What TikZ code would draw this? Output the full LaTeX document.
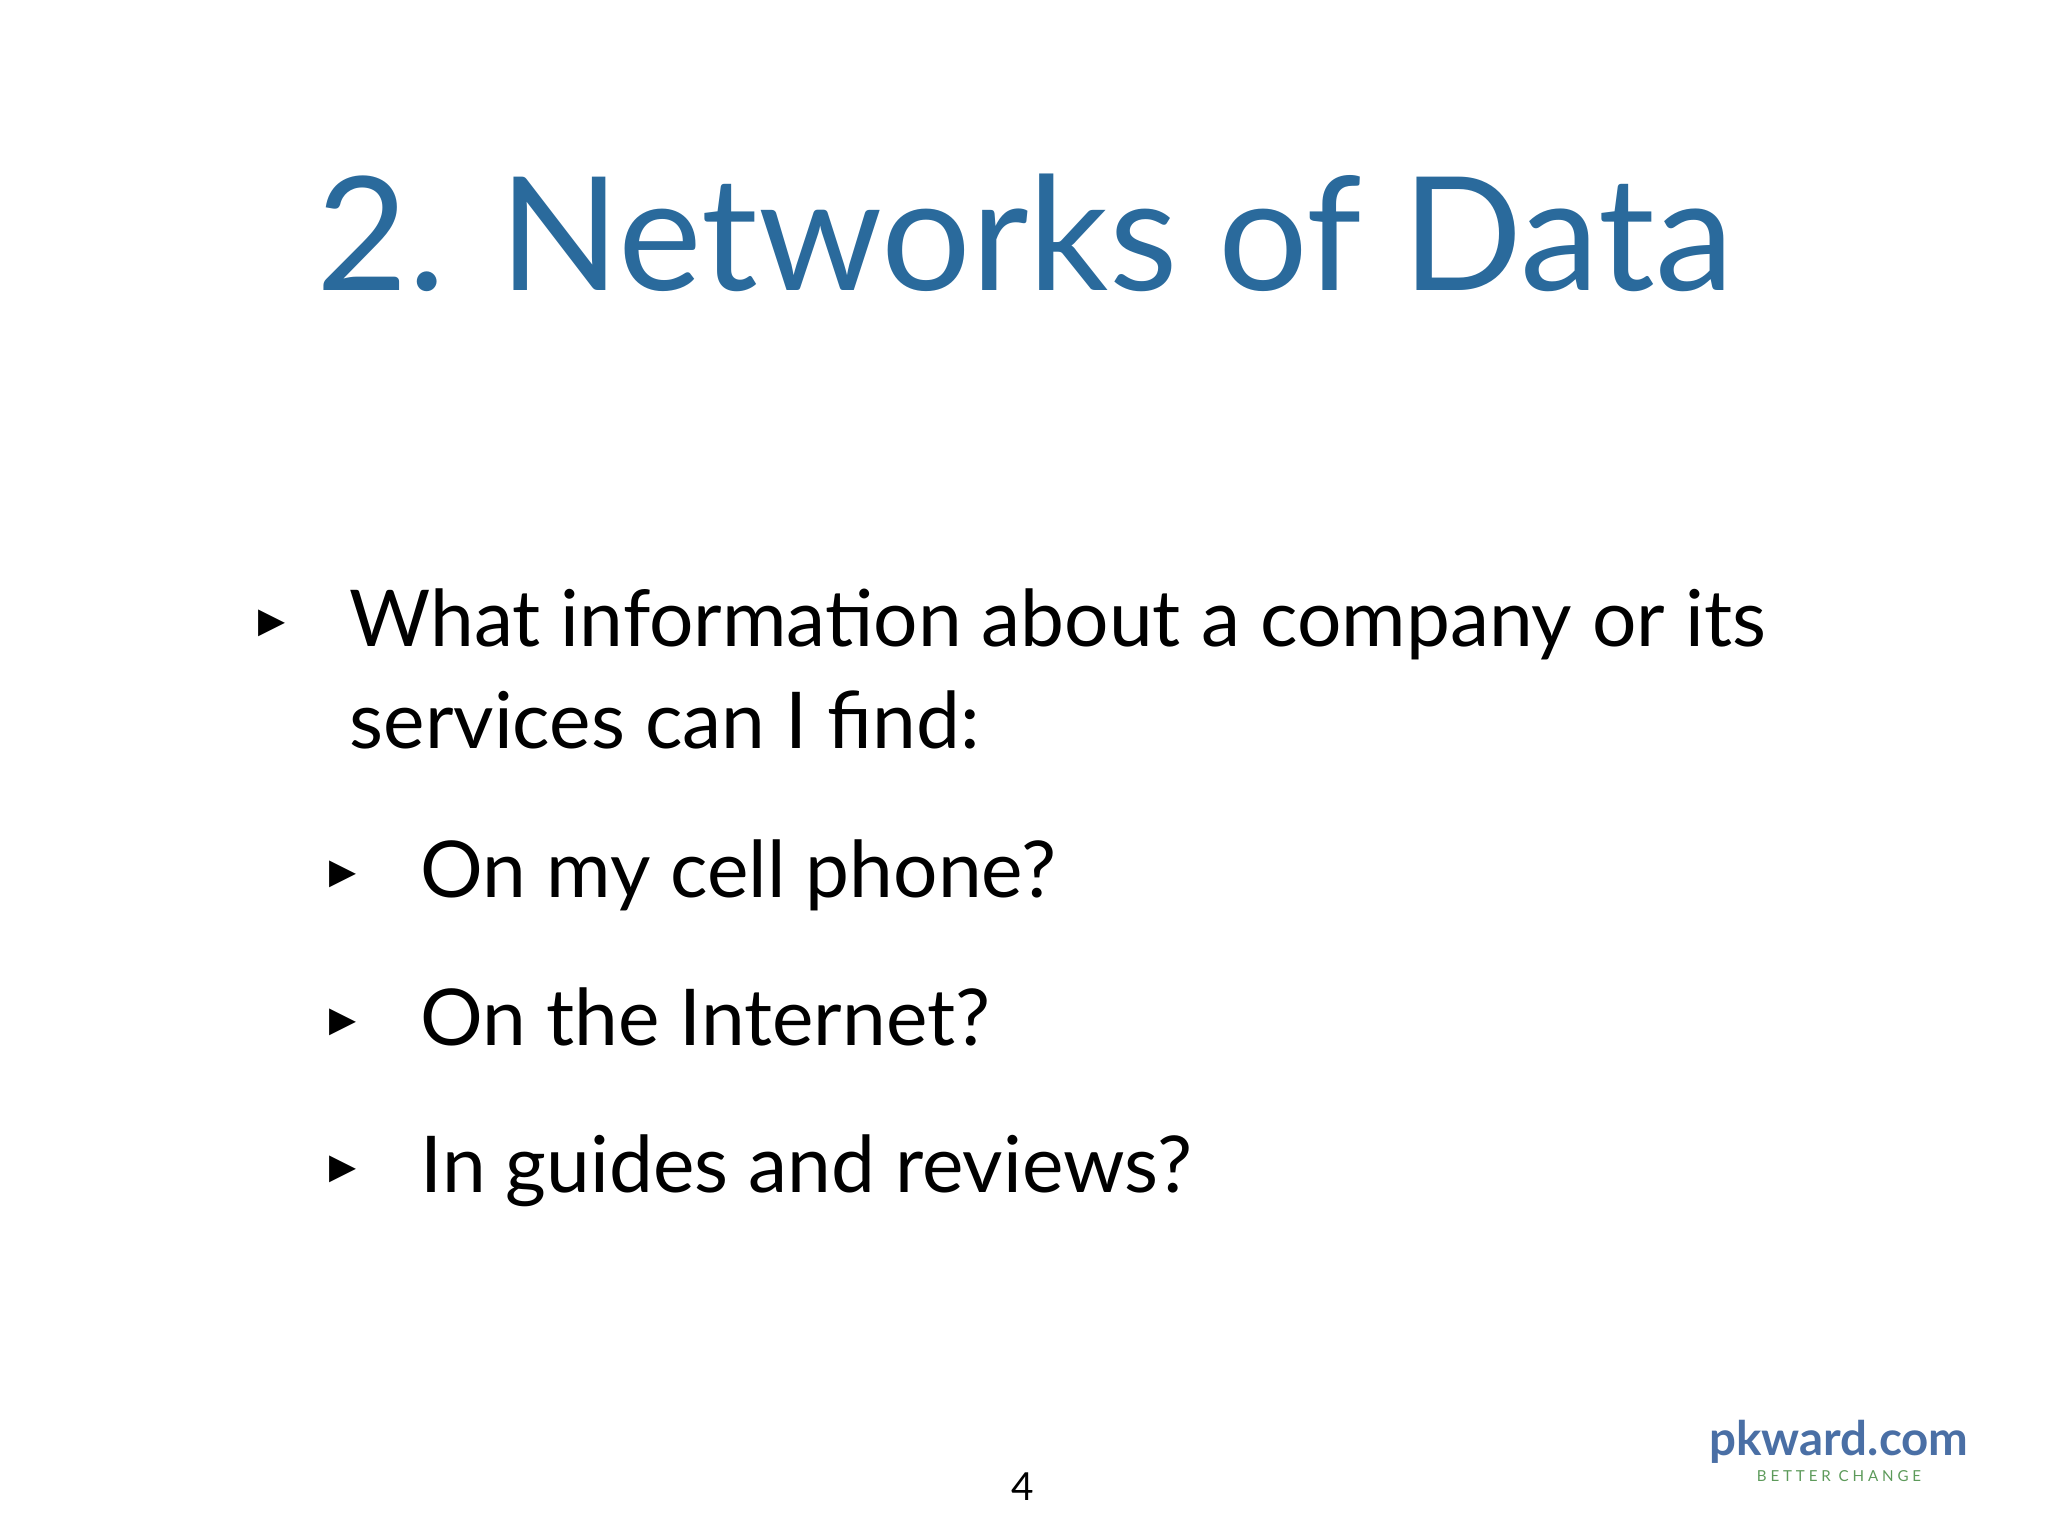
\documentclass[tikz,border=0pt]{standalone}
\usepackage{fontspec}
\setmainfont{Lato}
\newfontfamily\dv{DejaVu Sans}
\definecolor{tblue}{HTML}{2A6A9C}
\definecolor{pkblue}{HTML}{4A6FA5}
\definecolor{pkgreen}{HTML}{5C9A5A}
\begin{document}
\begin{tikzpicture}[x=0.01cm,y=-0.01cm,
  body/.style={anchor=base west,inner sep=0,font=\fontsize{22.3}{27}\selectfont},
  bul/.style={anchor=base,inner sep=0,font=\dv\fontsize{10}{12}\selectfont}]
\useasboundingbox (0,0) rectangle (2048,1536);
\node[anchor=base,inner sep=0,text=tblue,font=\fontsize{45}{52}\selectfont] (title) at (1025,290) {2. Networks of Data};
\node[bul] (b1) at (272,632) {▶};
\node[body] (t1) at (349,646) {What information about a company or its};
\node[body] (t1b) at (349,748) {services can I find:};
\node[bul] (b2) at (343,883) {▶};
\node[body] (t2) at (420,897) {On my cell phone?};
\node[bul] (b3) at (343,1031) {▶};
\node[body] (t3) at (420,1045) {On the Internet?};
\node[bul] (b4) at (343,1178) {▶};
\node[body] (t4) at (420,1192) {In guides and reviews?};
\node[anchor=base,inner sep=0,font=\fontsize{11}{13}\selectfont] (pg) at (1023,1500) {4};
\node[anchor=base,inner sep=0,text=pkblue,font=\bfseries\fontsize{13.5}{16}\selectfont] (pk) at (1839,1455) {pkward.com};
\node[anchor=base,inner sep=0,text=pkgreen,font=\fontsize{4.3}{6}\selectfont] (bc) at (1839,1481) {B E T T E R\ \ C H A N G E};
\end{tikzpicture}
\end{document}
